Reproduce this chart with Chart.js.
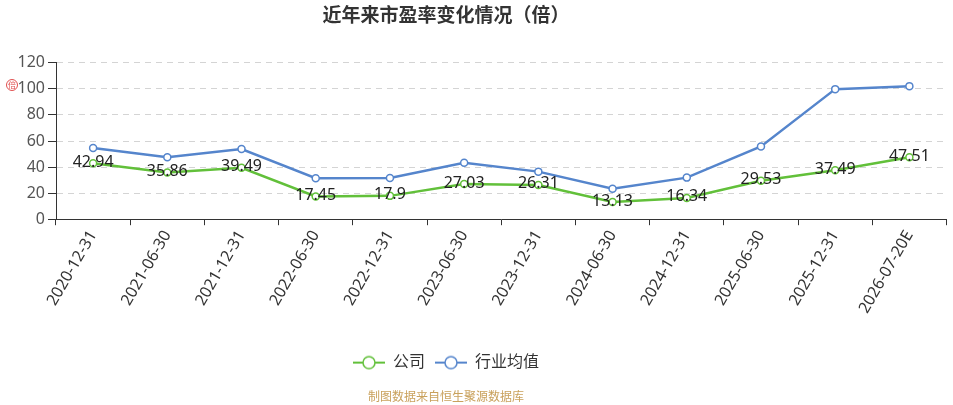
<!DOCTYPE html>
<html>
<head>
<meta charset="utf-8">
<script src="https://cdn.jsdelivr.net/npm/chart.js@4"></script>
<style>
  html, body { margin: 0; padding: 0; background: #fff; overflow: hidden; }
  #wrap { position: relative; width: 953px; height: 405px; overflow: hidden; }
  #myChart { position: absolute; left: -60px; top: 0; }
</style>
</head>
<body>
<div id="wrap">
  <canvas id="myChart" width="1012" height="405"></canvas>
</div>
<script>
const ctx = document.getElementById('myChart');

const dates = ['2020-12-31', '2021-06-30', '2021-12-31', '2022-06-30', '2022-12-31', '2023-06-30',
  '2023-12-31', '2024-06-30', '2024-12-31', '2025-06-30', '2025-12-31', '2026-07-20E'];
const company = [42.94, 35.86, 39.49, 17.45, 17.9, 27.03, 26.31, 13.13, 16.34, 29.53, 37.49, 47.51];
const industry = [54.6, 47.5, 53.8, 31.5, 31.7, 43.3, 36.5, 23.4, 31.9, 55.8, 99.8, 102.1];
const seriesNames = ['公司', '行业均值'];
const colors = ['#62c03a', '#5585cc'];

Chart.defaults.font.family = '"Noto Sans", "Noto Sans CJK SC", sans-serif';

// little "-o-" icon for the legend
function legendIcon(color) {
  const c = document.createElement('canvas');
  c.width = 32;
  c.height = 16;
  const g = c.getContext('2d');
  g.strokeStyle = color;
  g.lineWidth = 2;
  g.beginPath();
  g.moveTo(0, 8);
  g.lineTo(32, 8);
  g.stroke();
  g.beginPath();
  g.arc(16, 8, 6, 0, Math.PI * 2);
  g.fillStyle = '#fff';
  g.fill();
  g.lineWidth = 1.5;
  g.stroke();
  return c;
}

const valueLabels = {
  id: 'valueLabels',
  afterDatasetsDraw(chart) {
    const c = chart.ctx;
    const meta = chart.getDatasetMeta(0);
    c.save();
    c.font = '16px "Noto Sans", sans-serif';
    c.fillStyle = '#222';
    c.textAlign = 'center';
    c.textBaseline = 'middle';
    meta.data.forEach((pt, i) => {
      c.fillText(String(company[i]), pt.x, pt.y - 1);
    });
    c.restore();
  },
  afterDraw(chart) {
    // small red stamp next to the y axis
    const c = chart.ctx;
    c.save();
    c.strokeStyle = '#e05050';
    c.fillStyle = '#e05050';
    c.lineWidth = 1;
    c.beginPath();
    c.arc(72, 85, 5.5, 0, Math.PI * 2);
    c.stroke();
    c.font = '8px "Noto Sans CJK SC"';
    c.textAlign = 'center';
    c.textBaseline = 'middle';
    c.fillText('倍', 72, 85);
    c.restore();
  }
};

new Chart(ctx, {
  type: 'line',
  data: {
    labels: dates,
    datasets: [{
      label: seriesNames[0],
      data: company,
      borderColor: colors[0],
      backgroundColor: '#fff',
      borderWidth: 2.5,
      pointRadius: 3.5,
      pointBorderWidth: 1.5,
      pointBackgroundColor: '#fff',
      pointBorderColor: colors[0],
      tension: 0
    }, {
      label: seriesNames[1],
      data: industry,
      borderColor: colors[1],
      backgroundColor: '#fff',
      borderWidth: 2.5,
      pointRadius: 3.5,
      pointBorderWidth: 1.5,
      pointBackgroundColor: '#fff',
      pointBorderColor: colors[1],
      tension: 0
    }]
  },
  options: {
    responsive: false,
    animation: false,
    layout: { padding: 0 },
    scales: {
      x: {
        offset: true,
        grid: {
          offset: true,
          drawOnChartArea: false,
          drawTicks: true,
          tickLength: 6,
          tickColor: '#333'
        },
        border: { color: '#333', width: 1 },
        ticks: {
          color: '#333',
          font: { size: 16 },
          minRotation: 60,
          maxRotation: 60,
          autoSkip: false,
          padding: 2
        },
        afterFit(scale) { scale.height = 125.4; }
      },
      y: {
        min: 0,
        max: 120,
        ticks: {
          stepSize: 20,
          color: '#555',
          font: { size: 16 },
          padding: 3
        },
        grid: {
          color: '#d4d4d4',
          tickColor: '#333',
          tickLength: 8
        },
        border: { color: '#333', width: 1, dash: [6, 5] },
        afterFit(scale) { scale.width = 116; }
      }
    },
    plugins: {
      title: {
        display: true,
        text: '近年来市盈率变化情况（倍）',
        color: '#333',
        font: { size: 19, weight: 'bold' },
        padding: { top: 5, bottom: 35 }
      },
      subtitle: {
        display: true,
        position: 'bottom',
        text: '制图数据来自恒生聚源数据库',
        color: '#c9a15c',
        font: { size: 12 },
        padding: { top: 10, bottom: 0 }
      },
      legend: {
        position: 'bottom',
        labels: {
          color: '#333',
          font: { size: 16 },
          padding: 10,
          usePointStyle: true,
          pointStyleWidth: 32,
          generateLabels(chart) {
            const items = Chart.defaults.plugins.legend.labels.generateLabels(chart);
            items.forEach((it, i) => { it.pointStyle = legendIcon(colors[i]); });
            return items;
          }
        }
      },
      tooltip: { enabled: false }
    }
  },
  plugins: [valueLabels]
});
</script>
</body>
</html>
